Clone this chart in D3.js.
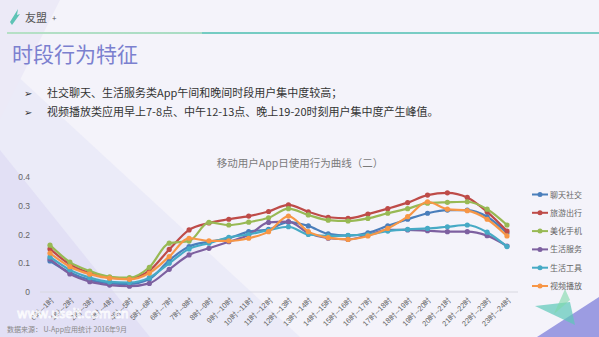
<!DOCTYPE html>
<html><head><meta charset="utf-8">
<script src="https://cdn.jsdelivr.net/npm/d3@7"></script>
<style>
html,body{margin:0;padding:0;background:#f4f3fa;}
svg{display:block;font-family:"Noto Sans CJK SC","Noto Sans",sans-serif;}
</style></head><body>
<svg id="c" width="599" height="337"></svg>
<script>
const categories = ["0时--1时","1时--2时","2时--3时","3时--4时","4时--5时","5时--6时","6时--7时","7时--8时","8时--9时","9时--10时","10时--11时","11时--12时","12时--13时","13时--14时","14时--15时","15时--16时","16时--17时","17时--18时","18时--19时","19时--20时","20时--21时","21时--22时","22时--23时","23时--24时"];
const seriesNames = ["聊天社交","旅游出行","美化手机","生活服务","生活工具","视频播放"];
const chat   = [0.108,0.068,0.042,0.030,0.028,0.045,0.110,0.158,0.175,0.187,0.210,0.218,0.243,0.230,0.202,0.196,0.206,0.230,0.253,0.274,0.285,0.285,0.262,0.205];
const travel = [0.150,0.096,0.066,0.050,0.047,0.074,0.148,0.216,0.240,0.253,0.264,0.280,0.303,0.279,0.260,0.256,0.271,0.290,0.311,0.337,0.345,0.329,0.279,0.212];
const beauty = [0.163,0.104,0.073,0.053,0.050,0.086,0.170,0.177,0.242,0.233,0.243,0.258,0.290,0.268,0.250,0.247,0.256,0.274,0.290,0.309,0.312,0.314,0.288,0.233];
const service= [0.115,0.063,0.036,0.024,0.020,0.030,0.079,0.129,0.152,0.175,0.198,0.242,0.245,0.205,0.187,0.183,0.198,0.216,0.216,0.213,0.210,0.210,0.196,0.160];
const tools  = [0.122,0.077,0.050,0.035,0.033,0.050,0.100,0.150,0.170,0.190,0.200,0.215,0.227,0.200,0.195,0.197,0.200,0.212,0.218,0.221,0.227,0.233,0.208,0.158];
const video  = [0.135,0.088,0.062,0.048,0.044,0.066,0.123,0.187,0.178,0.178,0.187,0.210,0.264,0.210,0.189,0.183,0.195,0.221,0.262,0.314,0.288,0.283,0.253,0.195];
const yTicks = [0,0.1,0.2,0.3,0.4];
const colors = ["#4a7ebb","#be4b48","#98b954","#7d60a0","#46aac5","#f79646"];
const values = [chat,travel,beauty,service,tools,video];

const svg = d3.select("#c");
// background shapes
svg.append("rect").attr("width",599).attr("height",337).attr("fill","#f4f3fa");
svg.append("polygon").attr("points","0,60 300,337 0,337").attr("fill","#e9e8f7").attr("opacity",0.8);
svg.append("polygon").attr("points","0,150 150,337 0,337").attr("fill","#dedcf3").attr("opacity",0.7);
svg.append("polygon").attr("points","0,0 60,0 0,120").attr("fill","#eceaf7");
svg.append("polygon").attr("points","599,297 537,337 599,337").attr("fill","#9c9ce2");
svg.append("polygon").attr("points","535,306 570,302 575,325").attr("fill","#5cc8b8").attr("opacity",0.7);
svg.append("polygon").attr("points","554,314 565,289 570,300").attr("fill","#7dd8a8").attr("opacity",0.6);

// header
const lg = svg.append("defs").append("linearGradient").attr("id","hl");
lg.append("stop").attr("offset","0").attr("stop-color","#b6e0c6");
lg.append("stop").attr("offset","0.33").attr("stop-color","#a8dcc4");
lg.append("stop").attr("offset","0.33").attr("stop-color","#74cbc2");
lg.append("stop").attr("offset","1").attr("stop-color","#7ccdc6");
svg.append("rect").attr("x",7).attr("y",32).attr("width",592).attr("height",2).attr("fill","url(#hl)");
svg.append("path").attr("d","M10,22 L18,9 L17,15 L20,14 L12,25 Z").attr("fill","#5ec3b5");
svg.append("text").attr("x",25).attr("y",22).attr("font-size",11).attr("fill","#555").text("友盟");
svg.append("text").attr("x",52).attr("y",21).attr("font-size",8).attr("fill","#555").text("+");
svg.append("text").attr("x",12).attr("y",62).attr("font-size",21).attr("fill","#7b80cf").text("时段行为特征");

const bullets = ["社交聊天、生活服务类App午间和晚间时段用户集中度较高；","视频播放类应用早上7-8点、中午12-13点、晚上19-20时刻用户集中度产生峰值。"];
bullets.forEach((b,i)=>{
  svg.append("text").attr("x",24).attr("y",97+i*19).attr("font-size",10).attr("fill","#333").text("➢");
  svg.append("text").attr("x",47).attr("y",97+i*19).attr("font-size",11).attr("fill","#333").text(b);
});

svg.append("text").attr("x",300).attr("y",167).attr("text-anchor","middle").attr("font-size",10.5).attr("fill","#7a7a7a").text("移动用户App日使用行为曲线（二）");

// scales
const x = d3.scalePoint().domain(categories).range([50,507]);
const y = d3.scaleLinear().domain([0,0.4]).range([292,177]);

// axis line
svg.append("line").attr("x1",40).attr("x2",518).attr("y1",292).attr("y2",292).attr("stroke","#d8d8e0").attr("stroke-width",1);

const ya = svg.append("g").attr("transform","translate(33,0)")
  .call(d3.axisLeft(y).tickValues(yTicks).tickSize(0).tickFormat(d=>d===0?"0":d3.format(".1f")(d)));
ya.select(".domain").remove();
ya.selectAll("text").attr("font-size",8.5).attr("fill","#666").attr("dx",0);

const xa = svg.append("g").attr("transform","translate(0,292)")
  .call(d3.axisBottom(x).tickSize(0));
xa.select(".domain").remove();
xa.selectAll("text").attr("font-size",7.5).attr("fill","#666")
  .attr("text-anchor","end").attr("dy",0).attr("dx",0)
  .attr("transform","translate(2,6) rotate(-45)");

// lines
const line = d3.line().x((d,i)=>x(categories[i])).y(d=>y(d)).curve(d3.curveMonotoneX);
values.forEach((v,k)=>{
  svg.append("path").datum(v).attr("d",line).attr("fill","none").attr("stroke",colors[k]).attr("stroke-width",2.2);
  svg.append("g").selectAll("circle").data(v).join("circle")
    .attr("cx",(d,i)=>x(categories[i])).attr("cy",d=>y(d)).attr("r",2.6).attr("fill",colors[k]);
});

// legend
seriesNames.forEach((n,i)=>{
  const yy = 194.5 + i*18.3;
  svg.append("line").attr("x1",532).attr("x2",548).attr("y1",yy).attr("y2",yy).attr("stroke",colors[i]).attr("stroke-width",2);
  svg.append("circle").attr("cx",540).attr("cy",yy).attr("r",2.5).attr("fill",colors[i]);
  svg.append("text").attr("x",550).attr("y",yy+3).attr("font-size",8).attr("fill","#666").text(n);
});

// watermark & source
svg.append("text").attr("x",17).attr("y",318).attr("font-size",13).attr("fill","none").attr("stroke","#ffffff").attr("stroke-width",0.9).attr("opacity",0.85).text("www.useit.com.cn");
svg.append("text").attr("x",7).attr("y",332).attr("font-size",7).attr("fill","#888").text("数据来源： U-App应用统计 2016年9月");
</script>
</body></html>
